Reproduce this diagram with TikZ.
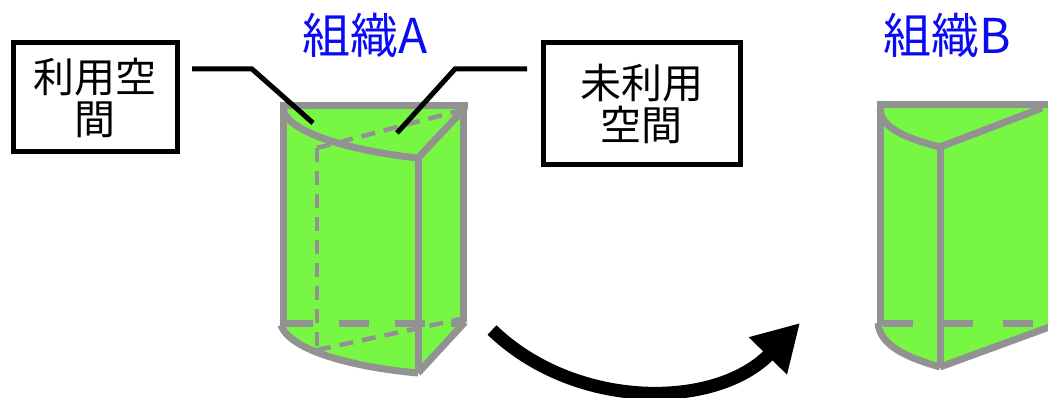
\documentclass[tikz,border=0pt]{standalone}
\usepackage{fontspec}
\setmainfont{Noto Sans CJK JP}
\usetikzlibrary{arrows.meta}
\definecolor{edgegray}{RGB}{146,146,146}
\definecolor{fillgreen}{RGB}{119,247,68}
\definecolor{titleblue}{RGB}{10,10,245}
\tikzset{edge/.style={draw=edgegray,line width=7pt}}
\tikzset{hidden/.style={draw=edgegray,line width=4.5pt,dash pattern=on 14pt off 9pt}}
\tikzset{hiddenbase/.style={draw=edgegray,line width=7pt,dash pattern=on 30pt off 26pt}}
\tikzset{leader/.style={draw=black,line width=5pt}}
\tikzset{lbox/.style={draw=black,line width=5pt,align=center,inner sep=0pt,font=\fontsize{41}{42}\selectfont}}
\tikzset{ttl/.style={text=titleblue,font=\fontsize{48}{48}\selectfont}}

\begin{document}
\begin{tikzpicture}[x=1pt,y=-1pt]
    \useasboundingbox (0,0) rectangle (1048,398);
    \clip (0,0) rectangle (1048,398);
    % solid A
    \fill[fillgreen] (283,106)--(465,106)--(465,322)--(418,373)
      .. controls (360,368) and (290,352) .. (283,325)--cycle;
    \draw[hidden] (317,148)--(462,110);
    \draw[hidden] (317,148)--(317,347);
    \draw[hidden] (317,350)--(465,318);
    \draw[hiddenbase] (283,323)--(465,323);
    \draw[edge] (280,106)--(468,106);
    \draw[edge] (283,106)--(283,325);
    \draw[edge] (463,106)--(463,322);
    \draw[edge] (283,110) .. controls (290,135) and (360,152) .. (418,158);
    \draw[edge] (418,158)--(465,108);
    \draw[edge] (418,158)--(418,373);
    \draw[edge] (281,325) .. controls (290,352) and (360,368) .. (418,373);
    \draw[edge] (418,373)--(465,322);
    % solid B
    \fill[fillgreen] (880,105)--(1048,105)--(1048,327)--(940,367)
      .. controls (905,357) and (880,345) .. (880,325)--cycle;
    \draw[hiddenbase,dash pattern=on 30pt off 30pt] (883,323)--(1048,323);
    \draw[edge] (877,105)--(1048,105);
    \draw[edge] (880,105)--(880,325);
    \draw[edge] (880,110) .. controls (882,128) and (905,138) .. (940,147);
    \draw[edge] (940,147)--(1042,108);
    \draw[edge] (940,147)--(940,367);
    \draw[edge] (878,323) .. controls (880,345) and (905,357) .. (940,367);
    \draw[edge] (940,367)--(1052,326);
    % titles
    \node[ttl] (orgA) at (365,35) {組織A};
    \node[ttl] (orgB) at (947,35) {組織B};
    % label boxes
    \node[lbox,minimum width=164pt,minimum height=109pt] (used) at (95,97.5) {利用空\\間};
    \node[lbox,minimum width=197pt,minimum height=122pt] (unused) at (641.5,104) {未利用\\空間};
    % leaders
    \coordinate (usedA) at (192,69);
    \coordinate (usedB) at (252,69);
    \coordinate (usedC) at (313,123);
    \coordinate (unusedA) at (527,69);
    \coordinate (unusedB) at (455,69);
    \coordinate (unusedC) at (397,133);
    \draw[leader] (usedA)--(usedB)--(usedC);
    \draw[leader] (unusedA)--(unusedB)--(unusedC);
    % transfer arrow
    \coordinate (moveS) at (492,330);
    \coordinate (moveE) at (800,323);
    \draw[line width=13pt,-{Triangle[length=46pt,width=50pt]}]
      (moveS) .. controls (575,410) and (715,410) .. (moveE);
\end{tikzpicture}
\end{document}
